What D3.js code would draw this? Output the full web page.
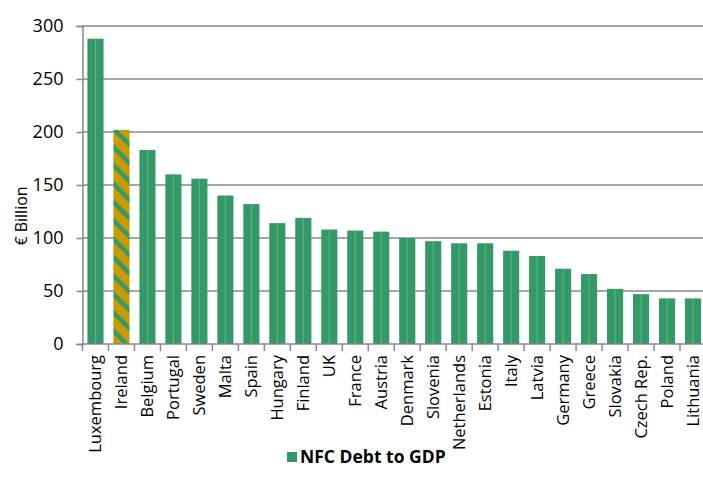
<!DOCTYPE html>
<html>
<head>
<meta charset="utf-8">
<script src="https://cdn.jsdelivr.net/npm/d3@7"></script>
<style>
  body { margin: 0; background: #fff; }
  text { font-family: "Open Sans", Lato, sans-serif; fill: #000; }
</style>
</head>
<body>
<div id="chart"></div>
<script>
// DATA
const countries = ["Luxembourg", "Ireland", "Belgium", "Portugal", "Sweden", "Malta", "Spain",
  "Hungary", "Finland", "UK", "France", "Austria", "Denmark", "Slovenia", "Netherlands",
  "Estonia", "Italy", "Latvia", "Germany", "Greece", "Slovakia", "Czech Rep.", "Poland", "Lithuania"];
const debtToGdp = [288, 202, 183, 160, 156, 140, 132, 114, 119, 108, 107, 106, 100, 97, 95,
  95, 88, 83, 71, 66, 52, 47, 43, 43];
const yTicks = [0, 50, 100, 150, 200, 250, 300];
const highlight = "Ireland";

const width = 703;
const height = 491;
const green = "#339966";
const gold = "#CC9900";
const grid = "#898989";

const svg = d3.select("#chart").append("svg")
  .attr("width", width)
  .attr("height", height);

// stripe pattern for the highlighted bar
const defs = svg.append("defs");
const pat = defs.append("pattern")
  .attr("id", "stripes")
  .attr("patternUnits", "userSpaceOnUse")
  .attr("width", 13)
  .attr("height", 13)
  .attr("patternTransform", "rotate(-45)");
pat.append("rect").attr("width", 13).attr("height", 13).attr("fill", gold);
pat.append("rect").attr("width", 4.5).attr("height", 13).attr("fill", green);

const x = d3.scaleBand().domain(countries).range([82.5, 706]).paddingInner(0.38).paddingOuter(0.19);
const y = d3.scaleLinear().domain([0, 300]).range([344, 26]);

// gridlines
svg.append("g")
  .selectAll("line")
  .data(yTicks.filter(d => d > 0))
  .join("line")
  .attr("x1", 82).attr("x2", width)
  .attr("y1", d => y(d)).attr("y2", d => y(d))
  .attr("stroke", grid).attr("stroke-width", 1.5);

// bars
const bars = svg.append("g");
bars.selectAll("rect")
  .data(countries)
  .join("rect")
  .attr("x", d => x(d))
  .attr("y", (d, i) => y(debtToGdp[i]))
  .attr("width", x.bandwidth())
  .attr("height", (d, i) => y(0) - y(debtToGdp[i]))
  .attr("fill", d => d === highlight ? "url(#stripes)" : green);

// faint centre line that shows in the original rendering
bars.selectAll("line")
  .data(countries.filter(d => d !== highlight))
  .join("line")
  .attr("x1", d => x(d) + x.bandwidth() / 2)
  .attr("x2", d => x(d) + x.bandwidth() / 2)
  .attr("y1", d => y(debtToGdp[countries.indexOf(d)]))
  .attr("y2", y(0))
  .attr("stroke", "#6cbf93").attr("stroke-width", 0.8);

// y axis
const yAxis = svg.append("g")
  .attr("transform", "translate(82.5,0)")
  .call(d3.axisLeft(y).tickValues(yTicks).tickSize(6).tickPadding(13));
yAxis.select(".domain").attr("stroke", grid).attr("stroke-width", 1.5);
yAxis.selectAll(".tick line").attr("stroke", grid).attr("stroke-width", 1.5);
yAxis.selectAll(".tick text").style("font-size", "18px").attr("fill", "#000");

// x axis
const xAxis = svg.append("g").attr("transform", "translate(0,344)");
xAxis.append("line")
  .attr("x1", 82).attr("x2", width)
  .attr("stroke", grid).attr("stroke-width", 1.5);
const step = x.step();
xAxis.selectAll(".tk")
  .data(countries)
  .join("line")
  .attr("class", "tk")
  .attr("x1", d => x(d) - step * 0.19).attr("x2", d => x(d) - step * 0.19)
  .attr("y1", 0).attr("y2", 7)
  .attr("stroke", grid).attr("stroke-width", 1.5);
xAxis.selectAll("text")
  .data(countries)
  .join("text")
  .attr("transform", d => "translate(" + (x(d) + x.bandwidth() / 2 + 5.5) + ",11) rotate(-90)")
  .attr("text-anchor", "end")
  .style("font-size", "16.5px")
  .text(d => d);

// y label
svg.append("text")
  .attr("transform", "translate(27,216) rotate(-90)")
  .attr("text-anchor", "middle")
  .style("font-size", "16px")
  .text("€ Billion");

// legend
svg.append("rect")
  .attr("x", 287).attr("y", 452).attr("width", 10).attr("height", 10)
  .attr("fill", green);
svg.append("text")
  .attr("x", 300).attr("y", 463)
  .style("font-size", "17.5px")
  .style("font-weight", "bold")
  .text("NFC Debt to GDP");
</script>
</body>
</html>
